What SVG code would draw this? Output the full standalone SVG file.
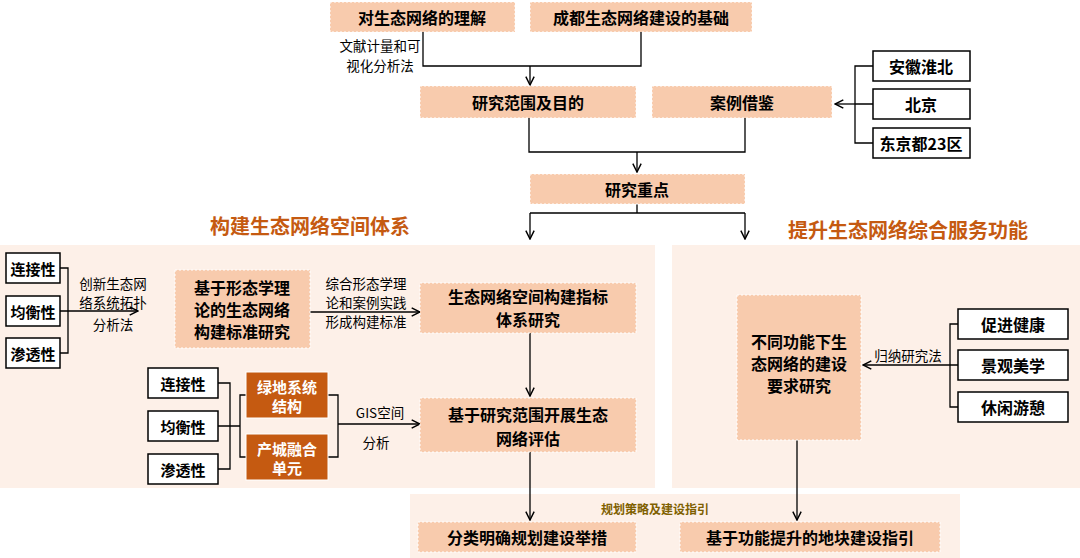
<svg xmlns="http://www.w3.org/2000/svg" width="1080" height="558" viewBox="0 0 1080 558">
<defs>
<marker id="ah" viewBox="0 0 10 10" refX="9" refY="5" markerWidth="8" markerHeight="8" orient="auto"><path d="M1,1 L9,5 L1,9" fill="none" stroke="#000" stroke-width="1.4"/></marker>
<style>
text{font-family:"Noto Sans CJK SC","Liberation Sans",sans-serif;text-anchor:middle;dominant-baseline:central}
.pk{fill:#f8cbad;stroke:#fff;stroke-dasharray:2 2}
.wb{fill:#fff;stroke:#000;stroke-width:1.5}
.or{fill:#c55a11;stroke:#fff}
.t{font-size:16px;font-weight:bold;fill:#000}
.ts{font-size:15px;font-weight:bold;fill:#000}
.tw{font-size:15px;font-weight:bold;fill:#fff}
.s{font-size:13.5px;fill:#000}
.h{font-size:20px;font-weight:bold;fill:#c55a11}
.ln{fill:none;stroke:#000;stroke-width:1.3}
</style>
</defs>
<rect width="1080" height="558" fill="#fff"/>
<rect x="0" y="245" width="655" height="243" fill="#fdf0e8"/>
<rect x="672" y="245" width="408" height="243" fill="#fdf0e8"/>
<rect x="410" y="494" width="550" height="64" fill="#fdf0e8"/>
<g id="connectors" class="ln">
<path d="M423,32 V66 H641 V32"/><path d="M530,66 V85" marker-end="url(#ah)"/>
<path d="M873,66 H855 V143 H873 M855,104 H873"/><path d="M855,104 H835" marker-end="url(#ah)"/>
<path d="M529,118 V152 H745 V118"/><path d="M637,152 V172" marker-end="url(#ah)"/>
<path d="M637,204 V213 M530,213 H745"/><path d="M530,213 V239" marker-end="url(#ah)"/><path d="M745,213 V239" marker-end="url(#ah)"/>
<path d="M60,268 H68 V353 H60 M60,311 H68"/><path d="M68,311 H138" marker-end="url(#ah)"/>
<path d="M310,312 H420" marker-end="url(#ah)"/>
<path d="M530,332 V396" marker-end="url(#ah)"/>
<path d="M218,383 H230 V469 H218 M218,426 H240 M246,395 H240 V457 H246"/>
<path d="M328,395 H338 V457 H328"/><path d="M338,424 H420" marker-end="url(#ah)"/>
<path d="M530,452 V520" marker-end="url(#ah)"/>
<path d="M797,440 V520" marker-end="url(#ah)"/>
<path d="M958,324 H950 V407 H958 M950,365 H958"/><path d="M950,365 H863" marker-end="url(#ah)"/>
</g>
<g id="n1"><rect class="pk" x="330" y="2" width="185" height="30"/><text class="t" x="422" y="17">对生态网络的理解</text></g>
<g id="n2"><rect class="pk" x="530" y="2" width="222" height="30"/><text class="t" x="641" y="17">成都生态网络建设的基础</text></g>
<text class="s" x="380" y="45">文献计量和可</text><text class="s" x="380" y="65">视化分析法</text>
<g id="n3"><rect class="pk" x="420" y="86" width="216" height="32"/><text class="t" x="528" y="102">研究范围及目的</text></g>
<g id="n4"><rect class="pk" x="652" y="86" width="180" height="32"/><text class="t" x="742" y="102">案例借鉴</text></g>
<g id="n5"><rect class="wb" x="873" y="51" width="97" height="30"/><text class="t" x="921" y="66">安徽淮北</text></g>
<g id="n6"><rect class="wb" x="873" y="89" width="97" height="30"/><text class="t" x="921" y="104">北京</text></g>
<g id="n7"><rect class="wb" x="873" y="128" width="97" height="30"/><text class="t" x="921" y="143">东京都23区</text></g>
<g id="n8"><rect class="pk" x="530" y="174" width="215" height="30"/><text class="t" x="637" y="189">研究重点</text></g>
<text class="h" x="310" y="225">构建生态网络空间体系</text>
<text class="h" x="908" y="229">提升生态网络综合服务功能</text>
<g id="n9"><rect class="wb" x="6" y="253" width="54" height="30"/><text class="ts" x="33" y="268">连接性</text></g>
<g id="n10"><rect class="wb" x="6" y="296" width="54" height="30"/><text class="ts" x="33" y="311">均衡性</text></g>
<g id="n11"><rect class="wb" x="6" y="338" width="54" height="30"/><text class="ts" x="33" y="353">渗透性</text></g>
<text class="s" x="113" y="283">创新生态网</text><text class="s" x="113" y="302">络系统拓扑</text><text class="s" x="113" y="324">分析法</text>
<g id="n12"><rect class="pk" x="175" y="270" width="135" height="78"/><text class="t" x="242" y="287">基于形态学理</text><text class="t" x="242" y="309">论的生态网络</text><text class="t" x="242" y="331">构建标准研究</text></g>
<text class="s" x="366" y="283">综合形态学理</text><text class="s" x="366" y="302">论和案例实践</text><text class="s" x="366" y="321">形成构建标准</text>
<g id="n13"><rect class="pk" x="420" y="283" width="216" height="50"/><text class="t" x="528" y="296">生态网络空间构建指标</text><text class="t" x="528" y="319">体系研究</text></g>
<g id="n14"><rect class="wb" x="148" y="368" width="70" height="30"/><text class="ts" x="183" y="383">连接性</text></g>
<g id="n15"><rect class="wb" x="148" y="411" width="70" height="30"/><text class="ts" x="183" y="426">均衡性</text></g>
<g id="n16"><rect class="wb" x="148" y="454" width="70" height="30"/><text class="ts" x="183" y="469">渗透性</text></g>
<g id="n17"><rect class="or" x="246" y="372" width="82" height="46"/><text class="tw" x="287" y="386">绿地系统</text><text class="tw" x="287" y="405">结构</text></g>
<g id="n18"><rect class="or" x="246" y="434" width="82" height="46"/><text class="tw" x="287" y="448">产城融合</text><text class="tw" x="287" y="467">单元</text></g>
<text class="s" x="380" y="412">GIS空间</text><text class="s" x="376" y="442">分析</text>
<g id="n19"><rect class="pk" x="420" y="398" width="216" height="54"/><text class="t" x="528" y="414">基于研究范围开展生态</text><text class="t" x="528" y="438">网络评估</text></g>
<g id="n20"><rect class="pk" x="737" y="295" width="124" height="145"/><text class="t" x="799" y="341">不同功能下生</text><text class="t" x="799" y="363">态网络的建设</text><text class="t" x="799" y="385">要求研究</text></g>
<text class="s" x="908" y="355">归纳研究法</text>
<g id="n21"><rect class="wb" x="958" y="309" width="110" height="30"/><text class="t" x="1013" y="324">促进健康</text></g>
<g id="n22"><rect class="wb" x="958" y="350" width="110" height="30"/><text class="t" x="1013" y="365">景观美学</text></g>
<g id="n23"><rect class="wb" x="958" y="392" width="110" height="30"/><text class="t" x="1013" y="407">休闲游憩</text></g>
<text x="655" y="508" style="font-size:12px;font-weight:bold;fill:#7f6000">规划策略及建设指引</text>
<g id="n24"><rect class="pk" x="418" y="522" width="218" height="30"/><text class="t" x="527" y="537">分类明确规划建设举措</text></g>
<g id="n25"><rect class="pk" x="680" y="522" width="260" height="30"/><text class="t" x="810" y="537">基于功能提升的地块建设指引</text></g>
</svg>
